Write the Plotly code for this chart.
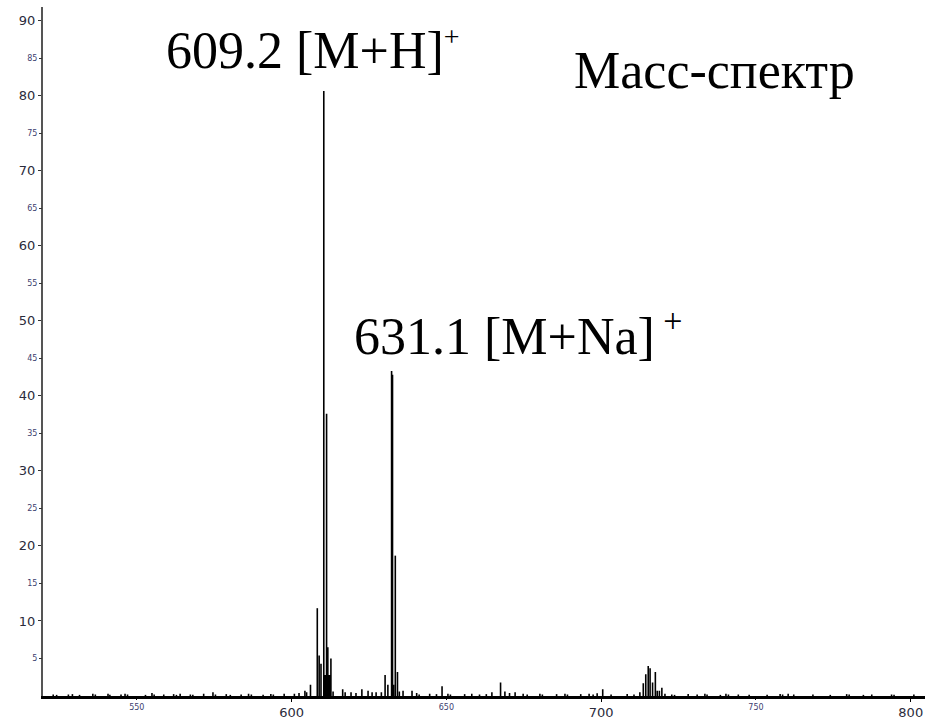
import plotly.graph_objects as go

# ---- data (m/z, relative intensity) ----
main_mz = [604.3, 604.85, 606.1, 608.3, 608.9, 609.5, 610.4, 610.65, 610.9, 611.1,
           611.3, 611.5, 611.7, 611.95, 612.2, 612.45, 612.7, 613.4, 616.5, 617.3]
main_int = [0.7, 0.5, 1.5, 11.7, 5.4, 4.3, 80.6, 2.8, 2.8, 2.8,
            37.6, 2.8, 6.5, 2.8, 2.8, 2.8, 5.0, 0.6, 0.9, 0.5]

na_mz = [622.7, 624.7, 626.0, 627.3, 630.2, 631.1, 632.3, 632.6, 633.0, 633.5,
         634.2, 634.8, 636.0, 638.9, 648.6]
na_int = [0.9, 0.7, 0.5, 0.5, 2.8, 1.5, 43.3, 42.8, 1.5, 18.7,
          3.2, 0.6, 0.7, 0.7, 1.3]

k_mz = [664.7, 667.5, 668.9, 672.2, 700.5, 712.5, 713.6, 714.4, 715.2, 715.8,
        716.6, 717.5, 718.1, 718.8, 719.6, 720.6]
k_int = [0.5, 1.8, 0.6, 0.5, 0.9, 0.5, 1.7, 2.9, 4.0, 3.7,
         1.8, 3.2, 0.7, 0.7, 1.1, 0.3]

noise_mz = [523.0, 524.1, 527.9, 529.2, 531.5, 535.8, 536.6, 540.7, 541.3, 544.9,
            546.2, 547.0, 552.8, 554.9, 555.6, 558.7, 561.9, 562.8, 564.0, 567.3,
            568.1, 571.6, 574.6, 575.4, 578.9, 580.2, 583.7, 586.1, 587.0, 590.8,
            593.3, 594.1, 597.6, 600.9, 602.4, 619.2, 620.8, 629.0, 640.4, 641.2,
            644.6, 646.8, 650.5, 651.3, 655.9, 658.2, 660.7, 662.9, 670.4, 674.8,
            676.1, 680.2, 681.0, 685.6, 688.3, 689.1, 693.4, 696.1, 697.4, 698.7,
            703.2, 708.4, 710.6, 722.8, 723.7, 728.1, 731.0, 733.5, 734.2, 738.5,
            740.3, 741.1, 744.3, 747.8, 753.6, 757.8, 758.6, 760.4, 762.2, 768.4,
            774.0, 779.3, 780.1, 784.7, 787.4, 793.8, 794.6, 801.0]
noise_int = [0.2, 0.15, 0.2, 0.25, 0.15, 0.3, 0.2, 0.3, 0.15, 0.2,
             0.3, 0.2, 0.15, 0.4, 0.2, 0.2, 0.25, 0.15, 0.3, 0.2,
             0.15, 0.3, 0.5, 0.2, 0.25, 0.15, 0.2, 0.3, 0.2, 0.15,
             0.25, 0.2, 0.3, 0.3, 0.4, 0.5, 0.4, 0.5, 0.4, 0.2,
             0.3, 0.25, 0.3, 0.2, 0.25, 0.3, 0.2, 0.25, 0.4, 0.3,
             0.2, 0.3, 0.2, 0.25, 0.3, 0.2, 0.25, 0.3, 0.2, 0.35,
             0.2, 0.25, 0.2, 0.2, 0.15, 0.25, 0.2, 0.3, 0.2, 0.15,
             0.3, 0.2, 0.2, 0.15, 0.15, 0.25, 0.2, 0.3, 0.2, 0.2,
             0.15, 0.25, 0.2, 0.15, 0.2, 0.2, 0.15, 0.2]

y_major = [10, 20, 30, 40, 50, 60, 70, 80, 90]
y_minor = [5, 15, 25, 35, 45, 55, 65, 75, 85]
x_major = [600, 700, 800]
x_minor = [550, 650, 750]

labels = ["609.2 [M+H]<sup><span style='font-size:28px'>+</span></sup>",
          "631.1 [M+Na]<sup><span style='font-size:34px'> +</span></sup>",
          "Масс-спектр"]

# ---- build stick segments ----
all_mz = noise_mz + main_mz + na_mz + k_mz
all_int = noise_int + main_int + na_int + k_int
xs, ys = [], []
for m, v in zip(all_mz, all_int):
    xs += [m, m, None]
    ys += [0, v, None]

fig = go.Figure()
fig.add_trace(go.Scatter(x=xs, y=ys, mode="lines",
                         line=dict(color="black", width=1.6),
                         hoverinfo="skip", showlegend=False))

XR = [519.7, 804.6]
YR = [0, 91.8]
major_font = dict(family="DejaVu Sans", size=13, color="#2b2b3b")
minor_font = dict(family="DejaVu Sans", size=8, color="#404070")

fig.update_layout(
    width=925, height=720,
    margin=dict(l=43, r=0, t=7, b=16),
    paper_bgcolor="white", plot_bgcolor="white",
    xaxis=dict(range=XR, tickvals=x_major, ticks="outside", ticklen=3,
               tickcolor="black", tickfont=major_font, showgrid=False,
               zeroline=False, showline=True, linecolor="black", linewidth=2.5),
    xaxis2=dict(range=XR, overlaying="x", side="bottom", anchor="y",
                tickvals=x_minor, ticks="outside", ticklen=3, tickcolor="black",
                tickfont=minor_font, showgrid=False, zeroline=False,
                showline=False),
    yaxis=dict(range=YR, tickvals=y_major, ticks="outside", ticklen=3,
               tickcolor="#333", tickfont=major_font, showgrid=False,
               zeroline=False, showline=True, linecolor="#555", linewidth=2),
    yaxis2=dict(range=YR, overlaying="y", side="left", anchor="x",
                tickvals=y_minor, ticks="outside", ticklen=3, tickcolor="#333",
                tickfont=minor_font, showgrid=False, zeroline=False,
                showline=False),
)

# invisible trace to activate the minor-label axes
fig.add_trace(go.Scatter(x=[XR[0]], y=[0], xaxis="x2", yaxis="y2", mode="markers",
                         marker=dict(opacity=0), hoverinfo="skip", showlegend=False))

ann_font = dict(family="Liberation Serif", size=52, color="black")
pos = [(0.1372, 0.938), (0.3503, 0.5265), (0.5996, 0.908)]
for t, (px, py) in zip(labels, pos):
    fig.add_annotation(text=t, xref="paper", yref="paper", x=px, y=py,
                       xanchor="left", yanchor="middle", showarrow=False,
                       font=ann_font)

fig.write_html("out.html")
